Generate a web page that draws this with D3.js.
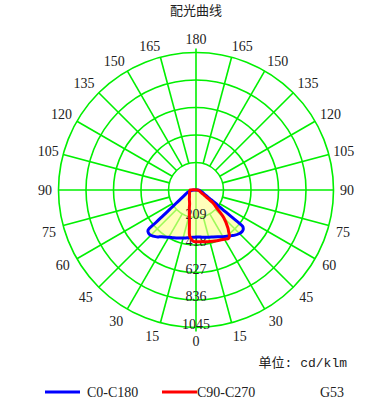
<!DOCTYPE html>
<html><head><meta charset="utf-8">
<script src="https://cdn.jsdelivr.net/npm/d3@7"></script>
<style>body{margin:0;background:#fff}svg{display:block}</style>
</head><body>
<svg id="chart" width="380" height="414"></svg>
<script>
// ---- data ----
const gammaAngles = [0,2,4,6,8,10,12,15,20,25,30,34,36,38,40,45,48,50,51,52,53,54,56,58,60,65,70,75,80,85,90];
const c0   = [358,358,359,360,362,364,367,371,380,393,410,425,433,440,450,468,472,468,462,450,330,244,170,121,97,65,52,42,32,22,12];
const c180 = [358,359,360,362,365,369,373,378,388,400,414,430,440,452,465,487,487,476,392,322,272,236,187,155,132,97,78,65,45,30,15];
const c90  = [394,394,395,396,398,400,402,405,412,421,432,443,432,403,378,300,231,196,185,172,160,130,95,72,55,40,32,25,20,16,12];
const c270 = [394,392,385,370,350,290,240,195,148,115,99,90,86,82,78,70,67,65,64,63,62,61,59,58,57,54,52,50,48,46,45];
const ringValues = [209,418,627,836,1045];
const angleTicks = [0,15,30,45,60,75,90,105,120,135,150,165,180];
const seriesNames = ["C0-C180","C90-C270"];

// ---- layout ----
const svg = d3.select("#chart");
const cx = 196, cy = 190, R = 137.5;
const r = d3.scaleLinear().domain([0, 1045]).range([0, R]);
const rad = d => d * Math.PI / 180;
const pt = (a, v, side) => [cx + side * r(v) * Math.sin(rad(a)), cy + r(v) * Math.cos(rad(a))];
const green = "#00f000";
const numFont = "'Liberation Serif', 'DejaVu Serif', serif";

// title
svg.append("text").attr("x", cx).attr("y", 15).attr("text-anchor", "middle")
  .attr("font-family", "'Noto Sans CJK SC', sans-serif").attr("font-size", 13).attr("fill", "#222")
  .text("配光曲线");

const grid = svg.append("g").attr("stroke", green).attr("fill", "none").attr("stroke-width", 1.6);
ringValues.forEach(v => grid.append("circle").attr("cx", cx).attr("cy", cy).attr("r", r(v)));
d3.range(0, 360, 15).forEach(a => {
  let r0 = r(ringValues[0]), r1 = R;
  if (a % 90 === 0) r0 = 0;
  if (a === 0 || a === 180) r1 = R + 4;
  grid.append("line")
    .attr("x1", cx + r0 * Math.sin(rad(a))).attr("y1", cy + r0 * Math.cos(rad(a)))
    .attr("x2", cx + r1 * Math.sin(rad(a))).attr("y2", cy + r1 * Math.cos(rad(a)));
});

// fills (union with group opacity)
function seriesPoints(right, left) {
  const pts = [];
  for (let i = gammaAngles.length - 1; i >= 0; i--) pts.push(pt(gammaAngles[i], left[i], -1));
  for (let i = 0; i < gammaAngles.length; i++) pts.push(pt(gammaAngles[i], right[i], 1));
  return pts;
}
const line = d3.line().curve(d3.curveCatmullRomClosed.alpha(0.5));
const bluePts = seriesPoints(c0, c180);
const redPts = seriesPoints(c90, c270);
const fillG = svg.append("g").attr("opacity", 0.62);
fillG.append("path").attr("d", line(bluePts)).attr("fill", "#ffff90");
fillG.append("path").attr("d", line(redPts)).attr("fill", "#ffff90");

// ring value labels
svg.append("g").selectAll("text").data(ringValues).join("text")
  .attr("x", cx).attr("y", d => cy + r(d) + 1).attr("text-anchor", "middle")
  .attr("font-family", numFont).attr("font-size", 14).attr("fill", "#222")
  .text(d => d);

// angle labels
const labG = svg.append("g").attr("font-family", numFont).attr("font-size", 14).attr("fill", "#222")
  .attr("text-anchor", "middle");
angleTicks.forEach(a => {
  const sides = (a === 0 || a === 180) ? [1] : [-1, 1];
  sides.forEach(s => {
    const lr = 151;
    const w = String(a).length * 7;
    const x = cx + s * lr * Math.sin(rad(a)) + (a === 0 || a === 180 ? 0 : s * (w / 2) * Math.abs(Math.cos(rad(a))) * 0.7);
    const y = cy + lr * Math.cos(rad(a)) + (a > 140 && a < 180 ? 2 : 0) + (a > 60 && a < 90 ? 3 : 0);
    labG.append("text").attr("x", x).attr("y", y).attr("dy", "0.35em").text(a);
  });
});

// curves
svg.append("path").attr("d", line(bluePts)).attr("fill", "none").attr("stroke", "#0000ff").attr("stroke-width", 3).attr("stroke-linejoin", "round");
svg.append("path").attr("d", line(redPts)).attr("fill", "none").attr("stroke", "#ff0000").attr("stroke-width", 3).attr("stroke-linejoin", "round");

// unit
svg.append("text").attr("x", 347).attr("y", 367).attr("text-anchor", "end")
  .attr("font-family", "'Liberation Mono', 'Noto Sans CJK SC', monospace").attr("font-size", 13).attr("fill", "#222")
  .text("单位: cd/klm");

// legend
const legend = [{x: 45, color: "#0000ff", name: seriesNames[0], tx: 87}, {x: 162, color: "#ff0000", name: seriesNames[1], tx: 197}];
legend.forEach(l => {
  svg.append("line").attr("x1", l.x).attr("x2", l.x + 35).attr("y1", 392).attr("y2", 392)
    .attr("stroke", l.color).attr("stroke-width", 3);
  svg.append("text").attr("x", l.tx).attr("y", 397).attr("font-family", numFont).attr("font-size", 14)
    .attr("fill", "#222").text(l.name);
});
svg.append("text").attr("x", 320).attr("y", 397).attr("font-family", numFont).attr("font-size", 14)
  .attr("fill", "#222").text("G53");
</script>
</body></html>
